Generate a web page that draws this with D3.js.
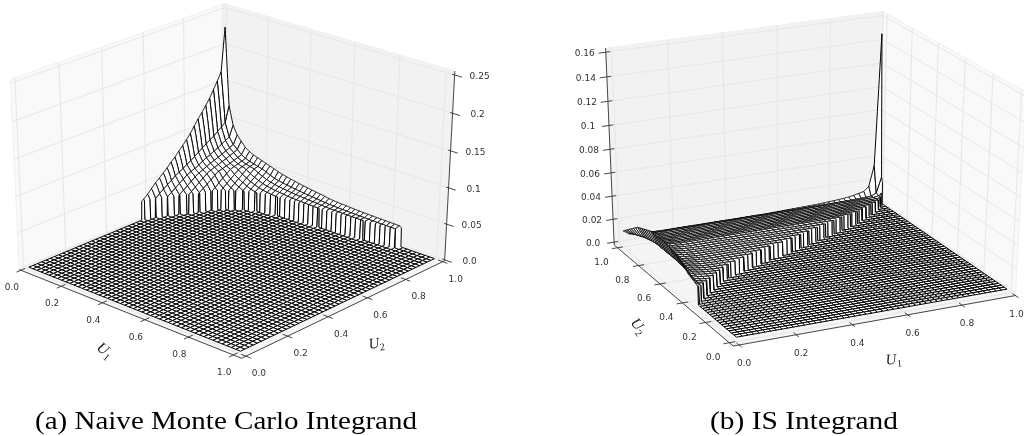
<!DOCTYPE html>
<html><head><meta charset="utf-8">
<script src="https://cdn.jsdelivr.net/npm/d3@7/dist/d3.min.js"></script>
<style>html,body{margin:0;padding:0;background:#fff;overflow:hidden}svg{display:block;filter:blur(.3px)}</style>
</head><body>
<svg id="c" width="1024" height="436"></svg>
<script>
// ---------- data ----------
const tickLabelsU = ["0.0","0.2","0.4","0.6","0.8","1.0"];
const tickValuesU = [0,0.2,0.4,0.6,0.8,1];
const tickValuesZA = [0,0.05,0.1,0.15,0.2,0.25];
const tickLabelsZA = ["0.0","0.05","0.1","0.15","0.2","0.25"];
const tickValuesZB = [0,0.02,0.04,0.06,0.08,0.1,0.12,0.14,0.16];
const tickLabelsZB = ["0.0","0.02","0.04","0.06","0.08","0.1","0.12","0.14","0.16"];
const captionA = "(a) Naive Monte Carlo Integrand";
const captionB = "(b) IS Integrand";
const gridU = d3.range(50).map(i => i / 49);

// Panel (a): height along the U2=1 edge, per U1 grid index
const edgeAlongU1 = [.226,.118,.092,.080,.073,.066,.062,.059,.057,.055,.053,.051,.049,.047,.046,.045,.044,.043,.042,.041,.040,.039,.038,.037,.036,.0345,.0335,.033,.0325,.032,.0315,.031,.0305,.030,.0298,.0295,.0292,.029,.0287,.0285,.0283,.028,.028,.028,.028,.028,.028,.028,.028,.028];
// Panel (a): height along the U1=0 edge, per U2 grid index
const edgeAlongU2 = [.02,.02,.02,.02,.02,.02,.02,.02,.02,.02,.02,.02,.02,.02,.02,.02,.02,.02,.02,.02,.02,.02,.02,.02,.02,.02,.022,.024,.028,.033,.039,.045,.050,.055,.060,.066,.071,.077,.083,.089,.096,.104,.112,.119,.127,.135,.145,.155,.166,.226];
// Panel (a): distance from U2=1 of the jump to the floor, per U1 grid index
const jumpDepthA = [.44,.39,.35,.31,.28,.25,.2,.175,.155,.14,.125,.115,.105,.098,.092,.087,.083,.08,.077,.074,.072,.07,.068,.066,.064,.062,.06,.058,.056,.055,.052,.05,.047,.045,.042,.04,.037,.034,.031,.028,.025,.022,-.02,-1,-1,-1,-1,-1,-1,-1];
const wallTopA = .027, blendA = .7, taperA = .1;

// Panel (b): height along U1=0 edge, per U2 index
const rimAlongU2 = [0,0,0,0,0,0,0,0,0,0,0,0,0,0,0,.014,.016,.017,.018,.019,.020,.022,.024,.026,.027,.028,.029,.029,.030,.030,.030,.030,.030,.030,.030,.030,.030,.029,.028,.027,.026,.025,.024,.022,.020,.018,.016,.014,.012,.010];
// Panel (b): interior height per U2 index
const midAlongU2 = [0,0,0,0,0,0,0,0,0,0,0,0,0,0,0,.012,.012,.012,.012,.012,.012,.012,.012,.012,.012,.012,.012,.012,.012,.012,.012,.012,.012,.012,.012,.012,.012,.012,.012,.0115,.011,.0105,.010,.0095,.009,.0085,.008,.0075,.0065,.005];
// Panel (b): weight of the rim per U1 index
const rimWeight = [1,.35,.18,.1,.06,.03,.01,0,0,0,0,0,0,0,0,0,0,0,0,0,0,0,0,0,0,0,0,0,0,0,0,0,0,0,0,0,0,0,0,0,0,0,0,0,0,0,0,0,0,0];
// Panel (b): extra height toward the back corner per U1 index
const backBump = [0,0,0,0,0,0,0,0,0,0,0,0,0,0,0,0,0,0,0,0,0,0,0,0,0,0,0,0,.0002,.0003,.0004,.0005,.0006,.0007,.0008,.0009,.001,.0012,.0014,.0017,.002,.0023,.0027,.0032,.004,.005,.006,.01,.028,.141];
// Panel (b): how far that extra height reaches, per U2 index
const backWeight = [0,0,0,0,0,0,0,0,0,0,0,0,0,0,0,0,0,0,0,0,0,0,0,0,0,0,0,0,0,0,0,0,0,0,0,0,0,0,0,0,.005,.006,.007,.008,.01,.015,.02,.04,.12,1];
// Panel (b): U2 position of the jump to the floor, per U1 index
const jumpAtB = [.32,.345,.37,.39,.41,.43,.45,.47,.49,.505,.52,.53,.54,.55,.56,.57,.58,.59,.60,.61,.617,.625,.632,.64,.65,.66,.67,.68,.69,.70,.71,.72,.73,.74,.75,.76,.77,.78,.79,.80,.81,.825,.84,.855,.87,.885,.90,.92,.945,.97];

const along = values => d3.scaleLinear().domain(gridU).range(values).clamp(true);
const fA1=along(edgeAlongU1), fA2=along(edgeAlongU2), fAj=along(jumpDepthA);
const fRim=along(rimAlongU2), fMid=along(midAlongU2), fW=along(rimWeight), fBump=along(backBump), fBW=along(backWeight), fBj=along(jumpAtB);
// the two edge profiles of panel (a) are joined across the surface, meeting the wall height at the jump
const joinA=(a,b)=>{ const P=edgeAlongU1[0], s=Math.pow(P/fA1(a),blendA)+Math.pow(P/fA2(b),blendA)-1; return P/Math.pow(s,1/blendA); };
const surfaceA=(a,b)=>{
  const edge=1-fAj(a);
  if(b<edge-1e-9) return 0;
  const w=Math.max(0,1-(b-edge)/taperA);
  return Math.max(.02,joinA(a,b)-(joinA(a,edge)-wallTopA)*w);
};

// ---------- layout configuration ----------
const panelA = {
  anchors: [[0,0,0,20,272],[1,0,0,241,357],[1,1,0,445,262],[0,1,0,224,182],[0,0,1,10,78],[0,1,1,225,5],[1,1,1,455,71]],
  azim:-47, elev:25,
  meshX:[.015,.968], meshY:[.03,.985], meshZ:[0,.25], meshZR:[.005,.98],
  tickX:[.008,.965], tickY:[.02,.99],
  zTicks:tickValuesZA, zLabels:tickLabelsZA,
  wallX:0, wallY:1,
  zAxisAt:[1,1], zTickDir:[1,0], zTickSpan:[-.01,.03],
  labelOffX:[-9,20], labelOffY:[13,20], labelOffZ:[25,4],
  xAxisY:0, yAxisX:1,
  z:surfaceA
};
const panelB = {
  anchors: [[0,0,0,734,345],[1,0,0,1015,298],[0,1,0,614,246],[1,1,0,879,200],[0,1,1,605,48],[1,1,1,884,13],[1,0,1,1026,91]],
  azim:-114, elev:22,
  meshX:[.029,.99], meshY:[.04,.985], meshZ:[0,.16], meshZR:[.015,.98],
  tickX:[.02,1], tickY:[.03,.97],
  zTicks:tickValuesZB, zLabels:tickLabelsZB,
  wallX:1, wallY:1,
  zAxisAt:[0,1], zTickDir:[1,0], zTickSpan:[-.025,.015],
  labelOffX:[5,21], labelOffY:[-16,17], labelOffZ:[-21,4],
  xAxisY:0, yAxisX:0,
  z:(a,b)=> b>=fBj(a) ? fMid(b)+fW(a)*(fRim(b)-fMid(b))+fBump(a)*fBW(b) : 0
};

// ---------- projection fitted to the box corners ----------
function solve(A,b){
  const n=b.length, M=A.map((r,i)=>[...r,b[i]]);
  for(let c=0;c<n;c++){
    let p=c; for(let r=c+1;r<n;r++) if(Math.abs(M[r][c])>Math.abs(M[p][c])) p=r;
    [M[c],M[p]]=[M[p],M[c]];
    for(let r=0;r<n;r++){ if(r===c) continue; const f=M[r][c]/M[c][c];
      for(let k=c;k<=n;k++) M[r][k]-=f*M[c][k]; }
  }
  return M.map((r,i)=>r[n]/r[i]);
}
function fitProjection(anchors){
  const rows=[],rhs=[],S=500;
  anchors.forEach(([X,Y,Z,px,py])=>{
    const x=px/S,y=py/S;
    rows.push([X,Y,Z,1,0,0,0,0,-x*X,-x*Y,-x*Z]); rhs.push(x);
    rows.push([0,0,0,0,X,Y,Z,1,-y*X,-y*Y,-y*Z]); rhs.push(y);
  });
  const n=11, N=d3.range(n).map(a=>d3.range(n).map(b=>d3.sum(rows,r=>r[a]*r[b])+(a===b?1e-9:0)));
  const v=d3.range(n).map(a=>d3.sum(rows,(r,k)=>r[a]*rhs[k]));
  const p=solve(N,v);
  return (X,Y,Z)=>{
    const w=p[8]*X+p[9]*Y+p[10]*Z+1;
    return [S*(p[0]*X+p[1]*Y+p[2]*Z+p[3])/w, S*(p[4]*X+p[5]*Y+p[6]*Z+p[7])/w];
  };
}

const svg=d3.select("#c");
const path=d3.line();
const SUB=12;
function drawPanel(cfg){
  const g=svg.append("g");
  const proj=fitProjection(cfg.anchors);
  const sx=d3.scaleLinear().domain([0,1]).range(cfg.meshX);
  const sy=d3.scaleLinear().domain([0,1]).range(cfg.meshY);
  const sz=d3.scaleLinear().domain(cfg.meshZ).range(cfg.meshZR);
  const tx=d3.scaleLinear().domain([0,1]).range(cfg.tickX);
  const ty=d3.scaleLinear().domain([0,1]).range(cfg.tickY);

  // panes
  const panes=[
    {fill:"#f5f5f5",c:[[0,0,0],[1,0,0],[1,1,0],[0,1,0]]},
    {fill:"#f9f9f9",c:[[cfg.wallX,0,0],[cfg.wallX,1,0],[cfg.wallX,1,1],[cfg.wallX,0,1]]},
    {fill:"#f2f2f2",c:[[0,cfg.wallY,0],[1,cfg.wallY,0],[1,cfg.wallY,1],[0,cfg.wallY,1]]}
  ];
  g.append("g").selectAll("path").data(panes).join("path")
    .attr("d",d=>path(d.c.map(c=>proj(...c)))+"Z").attr("fill",d=>d.fill)
    .attr("stroke","#f0f0f0").attr("stroke-width",1);

  // grid lines
  const gridSegs=[];
  tickValuesU.forEach(t=>{
    const X=tx(t),Y=ty(t);
    gridSegs.push([[X,0,0],[X,1,0]],[[0,Y,0],[1,Y,0]]);
    gridSegs.push([[X,cfg.wallY,0],[X,cfg.wallY,1]],[[cfg.wallX,Y,0],[cfg.wallX,Y,1]]);
  });
  cfg.zTicks.forEach(v=>{
    const Z=sz(v);
    gridSegs.push([[0,cfg.wallY,Z],[1,cfg.wallY,Z]],[[cfg.wallX,0,Z],[cfg.wallX,1,Z]]);
  });
  g.append("g").selectAll("path").data(gridSegs).join("path")
    .attr("d",d=>path(d.map(c=>proj(...c)))).attr("fill","none").attr("stroke","#e6e6e6").attr("stroke-width",1);

  // surface cells: every cell outline follows the surface between grid nodes; painted far to near
  const rad=Math.PI/180, cam=[Math.cos(cfg.azim*rad)*Math.cos(cfg.elev*rad),Math.sin(cfg.azim*rad)*Math.cos(cfg.elev*rad),Math.sin(cfg.elev*rad)];
  const quads=[];
  for(let i=0;i<49;i++) for(let j=0;j<49;j++){
    const a0=gridU[i],a1=gridU[i+1],b0=gridU[j],b1=gridU[j+1];
    const uv=[];
    for(let k=0;k<SUB;k++){ const t=k/SUB; uv.push([a0+(a1-a0)*t,b0]); }
    for(let k=0;k<SUB;k++){ const t=k/SUB; uv.push([a1,b0+(b1-b0)*t]); }
    for(let k=0;k<SUB;k++){ const t=k/SUB; uv.push([a1-(a1-a0)*t,b1]); }
    for(let k=0;k<SUB;k++){ const t=k/SUB; uv.push([a0,b1-(b1-b0)*t]); }
    let c=uv.map(([a,b])=>[sx(a),sy(b),sz(cfg.z(a,b))]);
    const flat=c.every(p=>p[2]===c[0][2]);
    if(flat) c=[c[0],c[SUB],c[2*SUB],c[3*SUB]];
    const near=d3.mean(c,p=>p[0]*cam[0]+p[1]*cam[1]+p[2]*cam[2]);
    quads.push({c,near});
  }
  quads.sort((a,b)=>a.near-b.near);
  g.append("g").selectAll("path").data(quads).join("path")
    .attr("d",d=>path(d.c.map(c=>proj(...c)))+"Z")
    .attr("fill","#fff").attr("stroke","#000").attr("stroke-width",1).attr("stroke-linejoin","round");

  // axes
  const ax=g.append("g").attr("stroke","#333").attr("stroke-width",.9).attr("fill","none");
  const oy=cfg.xAxisY, ox=cfg.yAxisX;
  const axisSegs=[[[0,oy,0],[1,oy,0]],[[ox,0,0],[ox,1,0]],[[cfg.zAxisAt[0],cfg.zAxisAt[1],0],[cfg.zAxisAt[0],cfg.zAxisAt[1],1]]];
  tickValuesU.forEach(t=>{
    axisSegs.push([[tx(t),oy-.02,0],[tx(t),oy+.02,0]]);
    axisSegs.push([[ox-.02,ty(t),0],[ox+.02,ty(t),0]]);
  });
  cfg.zTicks.forEach(v=>{
    const [a,b]=cfg.zTickSpan, Z=sz(v), X=cfg.zAxisAt[0], Y=cfg.zAxisAt[1];
    axisSegs.push([[X+a,Y,Z],[X+b,Y,Z]]);
  });
  ax.selectAll("path").data(axisSegs).join("path").attr("d",d=>path(d.map(c=>proj(...c))));

  // tick labels
  const lab=g.append("g").attr("font-family","'DejaVu Sans'").attr("font-size",9).attr("fill","#333").attr("text-anchor","middle");
  const labels=[];
  tickValuesU.forEach((t,k)=>{
    const p=proj(tx(t),oy,0); labels.push([Math.min(p[0]+cfg.labelOffX[0],1016.5),p[1]+cfg.labelOffX[1],tickLabelsU[k]]);
    const q=proj(ox,ty(t),0); labels.push([q[0]+cfg.labelOffY[0],q[1]+cfg.labelOffY[1],tickLabelsU[k]]);
  });
  cfg.zTicks.forEach((v,k)=>{
    const p=proj(cfg.zAxisAt[0],cfg.zAxisAt[1],sz(v)); labels.push([p[0]+cfg.labelOffZ[0],p[1]+cfg.labelOffZ[1],cfg.zLabels[k]]);
  });
  lab.selectAll("text").data(labels).join("text").attr("x",d=>d[0]).attr("y",d=>d[1]).text(d=>d[2]);
}
drawPanel(panelA);
drawPanel(panelB);

// axis titles
const titles=[
  {x:102,y:354,r:38,sub:"1"},
  {x:377,y:348,r:-8,sub:"2"},
  {x:635,y:329,r:52,sub:"2"},
  {x:894,y:364,r:-5,sub:"1"}
];
const tt=svg.append("g").selectAll("text").data(titles).join("text")
  .attr("transform",d=>`translate(${d.x},${d.y}) rotate(${d.r})`)
  .attr("text-anchor","middle").attr("font-family","'Liberation Serif'").attr("font-style","italic").attr("font-size",15).attr("fill","#222");
tt.append("tspan").text("U");
tt.append("tspan").attr("dy",3).attr("font-size",10).attr("font-style","normal").text(d=>d.sub);

// captions
svg.append("text").attr("x",35).attr("y",429).attr("font-family","'Liberation Serif'").attr("font-size",26).attr("fill","#000")
  .attr("textLength",382).attr("lengthAdjust","spacingAndGlyphs").text(captionA);
svg.append("text").attr("x",710).attr("y",429).attr("font-family","'Liberation Serif'").attr("font-size",26).attr("fill","#000")
  .attr("textLength",188).attr("lengthAdjust","spacingAndGlyphs").text(captionB);
</script>
</body></html>
